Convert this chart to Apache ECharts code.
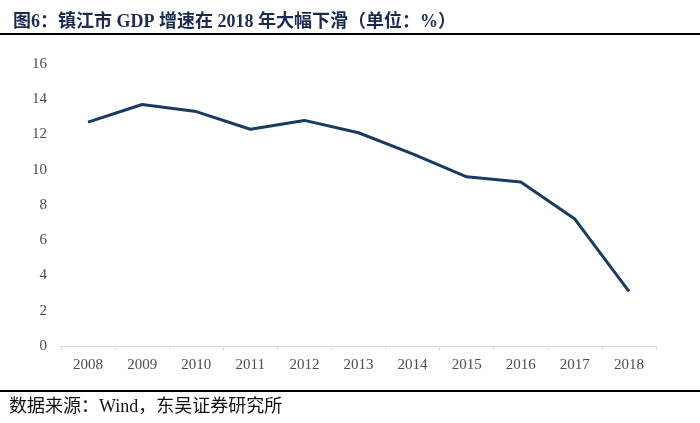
<!DOCTYPE html>
<html><head><meta charset="utf-8">
<script src="https://cdn.jsdelivr.net/npm/echarts@6/dist/echarts.min.js"></script>
<style>html,body{margin:0;padding:0;background:#fff}#c{width:700px;height:423px}</style>
</head><body><div id="c"></div>
<script>
const categories = ['2008','2009','2010','2011','2012','2013','2014','2015','2016','2017','2018'];
const gdpGrowth = [12.7, 13.7, 13.3, 12.3, 12.8, 12.1, 10.9, 9.6, 9.3, 7.2, 3.1];
const yTicks = {min: 0, max: 16, interval: 2};
const titleText = '图6：镇江市 GDP 增速在 2018 年大幅下滑（单位：%）';
const sourceText = '数据来源：Wind，东吴证券研究所';

const chart = echarts.init(document.getElementById('c'));
chart.setOption({
  animation: false,
  title: {
    text: titleText, left: 8, top: 8,
    textStyle: {fontFamily: '"Liberation Serif","Noto Sans CJK SC",serif', fontSize: 18, fontWeight: 'bold', color: '#1c2a50'}
  },
  graphic: [
    {type: 'rect', shape: {x: 0, y: 33, width: 700, height: 2}, style: {fill: '#000'}},
    {type: 'rect', shape: {x: 0, y: 390, width: 700, height: 2}, style: {fill: '#000'}},
    {type: 'text', left: 9, top: 398, style: {text: sourceText, font: '18px "Liberation Serif","Noto Sans CJK SC",serif', fill: '#111'}}
  ],
  grid: {left: 61, right: 44, top: 64, bottom: 77},
  xAxis: {
    type: 'category', data: categories, boundaryGap: true,
    axisLine: {lineStyle: {color: '#d9d9d9'}},
    axisTick: {show: true, length: 4, lineStyle: {color: '#d9d9d9'}},
    axisLabel: {color: '#4d4d4d', fontFamily: '"Liberation Serif",serif', fontSize: 15, margin: 12}
  },
  yAxis: {
    type: 'value', min: yTicks.min, max: yTicks.max, interval: yTicks.interval,
    splitLine: {show: false}, axisLine: {show: false}, axisTick: {show: false},
    axisLabel: {color: '#4d4d4d', fontFamily: '"Liberation Serif",serif', fontSize: 15, margin: 14}
  },
  series: [{
    type: 'line', data: gdpGrowth, symbol: 'none',
    lineStyle: {color: '#1b3a60', width: 3}
  }]
});
</script></body></html>
